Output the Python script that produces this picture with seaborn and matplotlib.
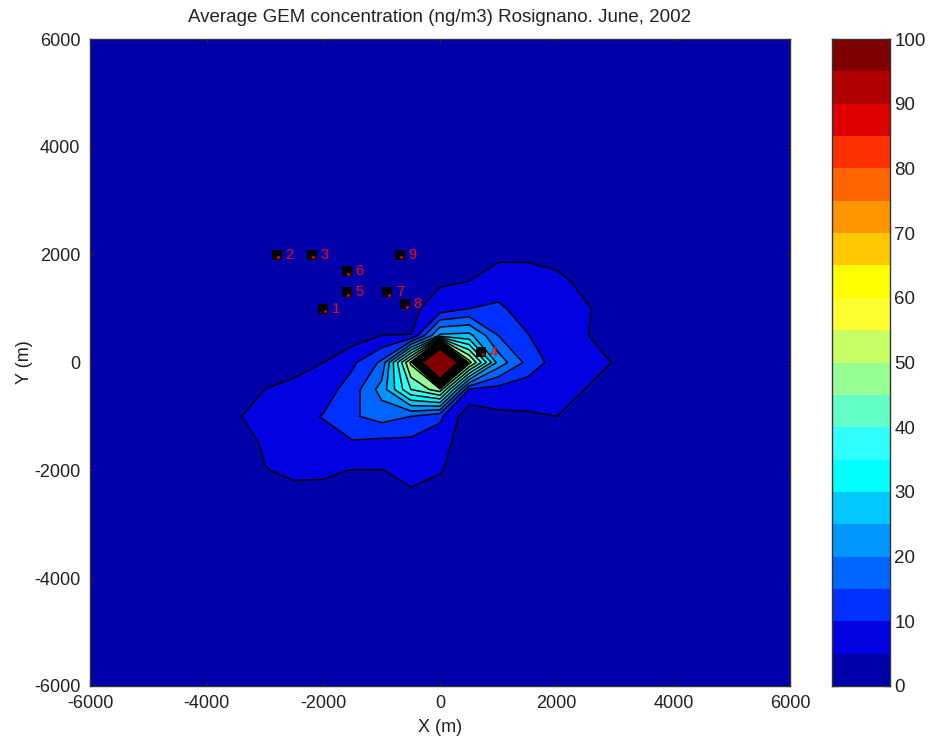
import numpy as np
import pandas as pd
import seaborn as sns
import matplotlib
matplotlib.use("Agg")
import matplotlib.pyplot as plt

sns.set_style("white")
plt.rcParams['font.family'] = ['Liberation Sans', 'DejaVu Sans']
plt.rcParams['axes.unicode_minus'] = False

x_nodes = [-3500, -3000, -2500, -2000, -1500, -1000, -500, 0, 500, 1000, 1500, 2000, 2500, 3000]
y_nodes = [2000, 1500, 1000, 500, 0, -500, -1000, -1500, -2000, -2500]
row_p2000 = [0, 0, 0, 0, 0, 0, 0, 1, 3, 4, 4, 3, 1, 0]
row_p1500 = [0, 0, 0, 0, 0, 0, 1, 4.5, 5.05, 7.5, 7.5, 6.5, 3.5, 0]
row_p1000 = [0, 0, 0, 0, 1, 2, 4, 7, 10, 10.8, 8, 7, 5.5, 3]
row_p500 = [0, 0, 0, 1, 2.5, 5.05, 5.05, 26, 26.5, 15, 10.2, 7, 5.1, 4]
row_0 = [1, 2, 3, 5, 9, 16, 51, 174, 52, 23, 13.5, 7.67, 7, 4.7]
row_m500 = [2, 5.05, 6.5, 7.5, 12.5, 22, 40, 48, 9.5, 8, 7, 7, 4.9, 2]
row_m1000 = [4.5, 7, 8, 10.3, 14.3, 17, 15, 11, 1.5, 4, 4.5, 5.0, 3, 1]
row_m1500 = [3.5, 5.4, 6.5, 7.5, 9.4, 8.4, 8.5, 7, 1.9, 1, 1, 1, 1, 0]
row_m2000 = [2, 4.9, 5.6, 5.5, 4.9, 4.9, 6, 5.5, 1, 0, 0, 0, 0, 0]
row_m2500 = [0, 2, 4, 4, 3, 3.5, 4.4, 2, 0, 0, 0, 0, 0, 0]

levels = [0, 5, 10, 15, 20, 25, 30, 35, 40, 45, 50, 55, 60, 65, 70, 75, 80, 85, 90, 95, 100]

station_x = [-2000, -2800, -2200, 700, -1600, -1600, -900, -600, -690]
station_y = [1000, 2000, 2000, 200, 1300, 1700, 1300, 1080, 2000]
station_id = ['1', '2', '3', '4', '5', '6', '7', '8', '9']

title = "Average GEM concentration (ng/m3) Rosignano. June, 2002"
ticks = [-6000, -4000, -2000, 0, 2000, 4000, 6000]
cbar_ticks = [0, 10, 20, 30, 40, 50, 60, 70, 80, 90, 100]

band_colors = ['#0000aa', '#0000e0', '#0030ff', '#0064ff', '#0096ff', '#00c8ff', '#00ffff',
               '#30ffff', '#64ffc8', '#96ff96', '#c8ff64', '#ffff30', '#ffff00', '#ffc800',
               '#ff9600', '#ff6400', '#ff3000', '#e00000', '#b00000', '#800000']

W, H = 929, 742
fig = plt.figure(figsize=(W / 100, H / 100), dpi=100, facecolor='white')
ax = fig.add_axes([90 / W, 1 - 686 / H, 700 / W, 647 / H])
cax = fig.add_axes([832 / W, 1 - 686 / H, 58 / W, 647 / H])

Z = np.array([row_p2000, row_p1500, row_p1000, row_p500, row_0,
              row_m500, row_m1000, row_m1500, row_m2000, row_m2500], float)
ax.set_facecolor(band_colors[0])
ax.contourf(x_nodes, y_nodes, Z, levels=levels, colors=band_colors, extend='max')
ax.contour(x_nodes, y_nodes, Z, levels=levels[1:], colors='black', linewidths=1.1)

stations = pd.DataFrame({'x': station_x, 'y': station_y})
sns.scatterplot(data=stations, x='x', y='y', ax=ax, marker='s', s=42, color='black',
                linewidth=0, zorder=5, legend=False)
ax.plot(np.array(station_x) + 30, np.array(station_y) - 50, ls='none', marker='.',
        ms=2, color='red', zorder=6)
for sx, sy, sid in zip(station_x, station_y, station_id):
    ax.text(sx + 150, sy, sid, color='red', fontsize=10.5, va='center', ha='left', zorder=7)

ax.set_xlim(-6000, 6000)
ax.set_ylim(-6000, 6000)
ax.set_xticks(ticks)
ax.set_yticks(ticks)
ax.set_xlabel('X (m)', fontsize=13, color='#222222', labelpad=5)
ax.set_ylabel('Y (m)', fontsize=13, color='#222222', labelpad=1)
ax.set_title(title, fontsize=13.5, color='#222222', pad=12.5)
ax.tick_params(direction='in', length=3, width=0.8, top=True, right=True,
               bottom=True, left=True, labelsize=13, labelcolor='#222222', color='#222222')
ax.tick_params(axis='x', pad=6.5)
ax.tick_params(axis='y', pad=7)

for i in range(20):
    cax.axhspan(levels[i], levels[i + 1], color=band_colors[i], lw=0)
cax.set_xlim(0, 1)
cax.set_ylim(0, 100)
cax.set_xticks([])
cax.yaxis.tick_right()
cax.set_yticks(cbar_ticks)
cax.tick_params(axis='y', direction='in', length=4.5, width=0.9, left=True, right=True,
                labelsize=13.5, labelcolor='#222222', pad=3, color='#111111')
for a in (ax, cax):
    for s in a.spines.values():
        s.set_visible(True)
        s.set_color('#333333')
        s.set_linewidth(1.0)

fig.savefig('out.png', dpi=100)
